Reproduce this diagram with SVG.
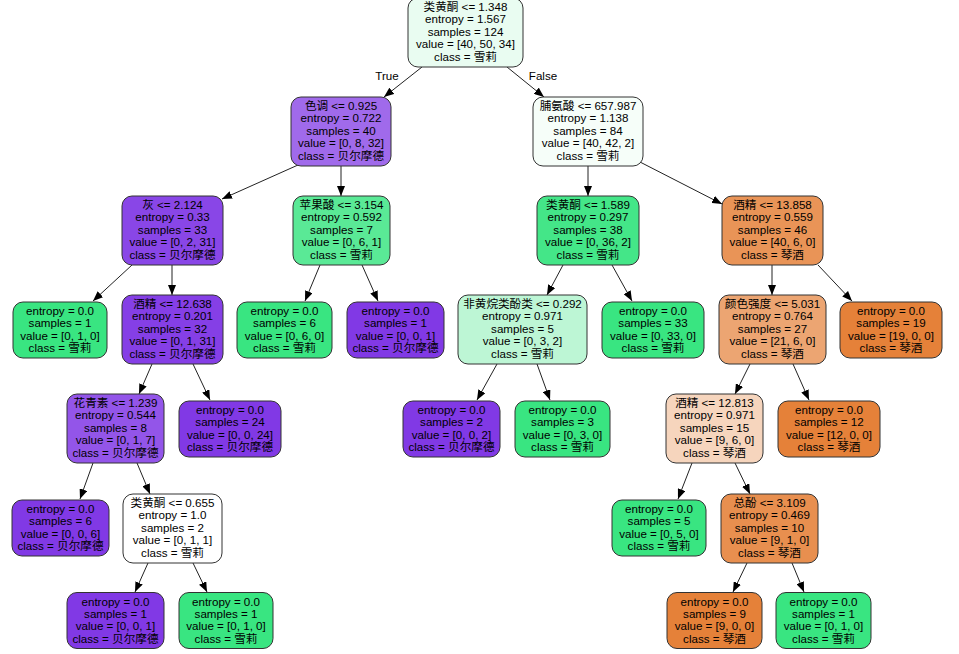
<svg xmlns="http://www.w3.org/2000/svg" width="959" height="654" viewBox="0 0 959 654">
<style>
  .n rect { stroke: #333; stroke-width: 1; }
  text { font-family: "Liberation Sans", "Noto Sans CJK SC", sans-serif; font-size: 11.6px; fill: #000; text-anchor: middle; }
  .e line { stroke: #222; stroke-width: 1; marker-end: url(#ah); }
  .g { fill: #39e581; } .p { fill: #8139e5; } .o { fill: #e58139; }
</style>
<defs>
  <marker id="ah" markerUnits="userSpaceOnUse" markerWidth="10" markerHeight="8" refX="10" refY="4" orient="auto">
    <path d="M0,0 L10,4 L0,8 z" fill="#000"/>
  </marker>
</defs>
<rect x="0" y="0" width="959" height="654" fill="#fff"/>
<g id="edges" class="e">
  <line x1="422" y1="67" x2="384" y2="97"/>
  <line x1="507" y1="67" x2="544" y2="97"/>
  <line x1="298" y1="165" x2="222" y2="199"/>
  <line x1="341" y1="166" x2="341" y2="196"/>
  <line x1="588" y1="166" x2="588" y2="196"/>
  <line x1="640" y1="162" x2="722" y2="204"/>
  <line x1="132" y1="265" x2="93" y2="301"/>
  <line x1="172" y1="265" x2="172" y2="295"/>
  <line x1="320" y1="265" x2="305" y2="301"/>
  <line x1="362" y1="265" x2="378" y2="301"/>
  <line x1="563" y1="265" x2="547" y2="295"/>
  <line x1="612" y1="265" x2="632" y2="301"/>
  <line x1="772" y1="265" x2="772" y2="295"/>
  <line x1="818" y1="265" x2="852" y2="301"/>
  <line x1="152" y1="364" x2="139" y2="394"/>
  <line x1="193" y1="364" x2="210" y2="400"/>
  <line x1="497" y1="364" x2="477" y2="400"/>
  <line x1="537" y1="364" x2="550" y2="400"/>
  <line x1="750" y1="364" x2="735" y2="394"/>
  <line x1="793" y1="364" x2="809" y2="400"/>
  <line x1="93" y1="463" x2="80" y2="499"/>
  <line x1="137" y1="463" x2="150" y2="494"/>
  <line x1="692" y1="463" x2="678" y2="499"/>
  <line x1="735" y1="463" x2="750" y2="494"/>
  <line x1="148" y1="563" x2="135" y2="592"/>
  <line x1="193" y1="563" x2="207" y2="592"/>
  <line x1="747" y1="563" x2="733" y2="592"/>
  <line x1="792" y1="563" x2="804" y2="592"/>
  <text x="387" y="80">True</text>
  <text x="543" y="80">False</text>
</g>

<g id="n0" class="n"><rect x="408" y="-2" width="115" height="69" rx="10" fill="#e9fcf1"/>
<text x="465.5" y="11">类黄酮 &lt;= 1.348</text><text x="465.5" y="23.4">entropy = 1.567</text><text x="465.5" y="35.8">samples = 124</text><text x="465.5" y="48.2">value = [40, 50, 34]</text><text x="465.5" y="60.6">class = 雪莉</text></g>

<g id="n1" class="n"><rect x="291" y="97" width="100" height="69" rx="10" fill="#a06aeb"/>
<text x="341" y="110">色调 &lt;= 0.925</text><text x="341" y="122.4">entropy = 0.722</text><text x="341" y="134.8">samples = 40</text><text x="341" y="147.2">value = [0, 8, 32]</text><text x="341" y="159.6">class = 贝尔摩德</text></g>

<g id="n2" class="n"><rect x="533" y="97" width="110" height="69" rx="10" fill="#f6fef9"/>
<text x="588" y="110">脯氨酸 &lt;= 657.987</text><text x="588" y="122.4">entropy = 1.138</text><text x="588" y="134.8">samples = 84</text><text x="588" y="147.2">value = [40, 42, 2]</text><text x="588" y="159.6">class = 雪莉</text></g>

<g id="n3" class="n"><rect x="122" y="196" width="101" height="69" rx="10" fill="#8946e7"/>
<text x="172.5" y="209">灰 &lt;= 2.124</text><text x="172.5" y="221.4">entropy = 0.33</text><text x="172.5" y="233.8">samples = 33</text><text x="172.5" y="246.2">value = [0, 2, 31]</text><text x="172.5" y="258.6">class = 贝尔摩德</text></g>

<g id="n4" class="n"><rect x="293" y="196" width="97" height="69" rx="10" fill="#5ae996"/>
<text x="341.5" y="209">苹果酸 &lt;= 3.154</text><text x="341.5" y="221.4">entropy = 0.592</text><text x="341.5" y="233.8">samples = 7</text><text x="341.5" y="246.2">value = [0, 6, 1]</text><text x="341.5" y="258.6">class = 雪莉</text></g>

<g id="n5" class="n"><rect x="537" y="196" width="102" height="69" rx="10" fill="#44e688"/>
<text x="588" y="209">类黄酮 &lt;= 1.589</text><text x="588" y="221.4">entropy = 0.297</text><text x="588" y="233.8">samples = 38</text><text x="588" y="246.2">value = [0, 36, 2]</text><text x="588" y="258.6">class = 雪莉</text></g>

<g id="n6" class="n"><rect x="722" y="196" width="101" height="69" rx="10" fill="#e99457"/>
<text x="772.5" y="209">酒精 &lt;= 13.858</text><text x="772.5" y="221.4">entropy = 0.559</text><text x="772.5" y="233.8">samples = 46</text><text x="772.5" y="246.2">value = [40, 6, 0]</text><text x="772.5" y="258.6">class = 琴酒</text></g>

<g id="n7" class="n"><rect x="13" y="302" width="94" height="56" rx="10" class="g"/>
<text x="60" y="315">entropy = 0.0</text><text x="60" y="327.4">samples = 1</text><text x="60" y="339.8">value = [0, 1, 0]</text><text x="60" y="352.2">class = 雪莉</text></g>

<g id="n8" class="n"><rect x="122" y="295" width="101" height="69" rx="10" fill="#853fe6"/>
<text x="172.5" y="308">酒精 &lt;= 12.638</text><text x="172.5" y="320.4">entropy = 0.201</text><text x="172.5" y="332.8">samples = 32</text><text x="172.5" y="345.2">value = [0, 1, 31]</text><text x="172.5" y="357.6">class = 贝尔摩德</text></g>

<g id="n9" class="n"><rect x="237" y="302" width="95" height="56" rx="10" class="g"/>
<text x="284.5" y="315">entropy = 0.0</text><text x="284.5" y="327.4">samples = 6</text><text x="284.5" y="339.8">value = [0, 6, 0]</text><text x="284.5" y="352.2">class = 雪莉</text></g>

<g id="n10" class="n"><rect x="347" y="302" width="97" height="56" rx="10" class="p"/>
<text x="395.5" y="315">entropy = 0.0</text><text x="395.5" y="327.4">samples = 1</text><text x="395.5" y="339.8">value = [0, 0, 1]</text><text x="395.5" y="352.2">class = 贝尔摩德</text></g>

<g id="n11" class="n"><rect x="458" y="295" width="129" height="69" rx="10" fill="#bdf6d5"/>
<text x="522.5" y="308">非黄烷类酚类 &lt;= 0.292</text><text x="522.5" y="320.4">entropy = 0.971</text><text x="522.5" y="332.8">samples = 5</text><text x="522.5" y="345.2">value = [0, 3, 2]</text><text x="522.5" y="357.6">class = 雪莉</text></g>

<g id="n12" class="n"><rect x="602" y="302" width="102" height="56" rx="10" class="g"/>
<text x="653" y="315">entropy = 0.0</text><text x="653" y="327.4">samples = 33</text><text x="653" y="339.8">value = [0, 33, 0]</text><text x="653" y="352.2">class = 雪莉</text></g>

<g id="n13" class="n"><rect x="719" y="295" width="107" height="69" rx="10" fill="#eca572"/>
<text x="772.5" y="308">颜色强度 &lt;= 5.031</text><text x="772.5" y="320.4">entropy = 0.764</text><text x="772.5" y="332.8">samples = 27</text><text x="772.5" y="345.2">value = [21, 6, 0]</text><text x="772.5" y="357.6">class = 琴酒</text></g>

<g id="n14" class="n"><rect x="840" y="302" width="102" height="56" rx="10" class="o"/>
<text x="891" y="315">entropy = 0.0</text><text x="891" y="327.4">samples = 19</text><text x="891" y="339.8">value = [19, 0, 0]</text><text x="891" y="352.2">class = 琴酒</text></g>

<g id="n15" class="n"><rect x="67" y="394" width="97" height="69" rx="10" fill="#9355e9"/>
<text x="115.5" y="407">花青素 &lt;= 1.239</text><text x="115.5" y="419.4">entropy = 0.544</text><text x="115.5" y="431.8">samples = 8</text><text x="115.5" y="444.2">value = [0, 1, 7]</text><text x="115.5" y="456.6">class = 贝尔摩德</text></g>

<g id="n16" class="n"><rect x="179" y="401" width="102" height="56" rx="10" class="p"/>
<text x="230" y="414">entropy = 0.0</text><text x="230" y="426.4">samples = 24</text><text x="230" y="438.8">value = [0, 0, 24]</text><text x="230" y="451.2">class = 贝尔摩德</text></g>

<g id="n17" class="n"><rect x="403" y="401" width="97" height="56" rx="10" class="p"/>
<text x="451.5" y="414">entropy = 0.0</text><text x="451.5" y="426.4">samples = 2</text><text x="451.5" y="438.8">value = [0, 0, 2]</text><text x="451.5" y="451.2">class = 贝尔摩德</text></g>

<g id="n18" class="n"><rect x="515" y="401" width="95" height="56" rx="10" class="g"/>
<text x="562.5" y="414">entropy = 0.0</text><text x="562.5" y="426.4">samples = 3</text><text x="562.5" y="438.8">value = [0, 3, 0]</text><text x="562.5" y="451.2">class = 雪莉</text></g>

<g id="n19" class="n"><rect x="666" y="394" width="97" height="69" rx="10" fill="#f6d5bd"/>
<text x="714.5" y="407">酒精 &lt;= 12.813</text><text x="714.5" y="419.4">entropy = 0.971</text><text x="714.5" y="431.8">samples = 15</text><text x="714.5" y="444.2">value = [9, 6, 0]</text><text x="714.5" y="456.6">class = 琴酒</text></g>

<g id="n20" class="n"><rect x="778" y="401" width="102" height="56" rx="10" class="o"/>
<text x="829" y="414">entropy = 0.0</text><text x="829" y="426.4">samples = 12</text><text x="829" y="438.8">value = [12, 0, 0]</text><text x="829" y="451.2">class = 琴酒</text></g>

<g id="n21" class="n"><rect x="12" y="500" width="97" height="56" rx="10" class="p"/>
<text x="60.5" y="513">entropy = 0.0</text><text x="60.5" y="525.4">samples = 6</text><text x="60.5" y="537.8">value = [0, 0, 6]</text><text x="60.5" y="550.2">class = 贝尔摩德</text></g>

<g id="n22" class="n"><rect x="123" y="494" width="99" height="69" rx="10" fill="#ffffff"/>
<text x="172.5" y="507">类黄酮 &lt;= 0.655</text><text x="172.5" y="519.4">entropy = 1.0</text><text x="172.5" y="531.8">samples = 2</text><text x="172.5" y="544.2">value = [0, 1, 1]</text><text x="172.5" y="556.6">class = 雪莉</text></g>

<g id="n23" class="n"><rect x="612" y="500" width="94" height="56" rx="10" class="g"/>
<text x="659" y="513">entropy = 0.0</text><text x="659" y="525.4">samples = 5</text><text x="659" y="537.8">value = [0, 5, 0]</text><text x="659" y="550.2">class = 雪莉</text></g>

<g id="n24" class="n"><rect x="721" y="494" width="97" height="69" rx="10" fill="#e88f4f"/>
<text x="769.5" y="507">总酚 &lt;= 3.109</text><text x="769.5" y="519.4">entropy = 0.469</text><text x="769.5" y="531.8">samples = 10</text><text x="769.5" y="544.2">value = [9, 1, 0]</text><text x="769.5" y="556.6">class = 琴酒</text></g>

<g id="n25" class="n"><rect x="67" y="592.5" width="97" height="56" rx="10" class="p"/>
<text x="115.5" y="605.5">entropy = 0.0</text><text x="115.5" y="617.9">samples = 1</text><text x="115.5" y="630.3">value = [0, 0, 1]</text><text x="115.5" y="642.7">class = 贝尔摩德</text></g>

<g id="n26" class="n"><rect x="179" y="592.5" width="94" height="56" rx="10" class="g"/>
<text x="226" y="605.5">entropy = 0.0</text><text x="226" y="617.9">samples = 1</text><text x="226" y="630.3">value = [0, 1, 0]</text><text x="226" y="642.7">class = 雪莉</text></g>

<g id="n27" class="n"><rect x="667" y="592.5" width="95" height="56" rx="10" class="o"/>
<text x="714.5" y="605.5">entropy = 0.0</text><text x="714.5" y="617.9">samples = 9</text><text x="714.5" y="630.3">value = [9, 0, 0]</text><text x="714.5" y="642.7">class = 琴酒</text></g>

<g id="n28" class="n"><rect x="776" y="592.5" width="95" height="56" rx="10" class="g"/>
<text x="823.5" y="605.5">entropy = 0.0</text><text x="823.5" y="617.9">samples = 1</text><text x="823.5" y="630.3">value = [0, 1, 0]</text><text x="823.5" y="642.7">class = 雪莉</text></g>
</svg>
